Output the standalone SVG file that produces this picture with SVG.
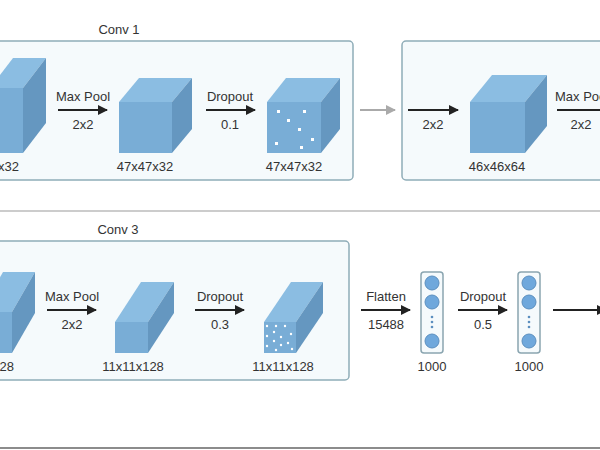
<svg xmlns="http://www.w3.org/2000/svg" width="600" height="450" viewBox="0 0 600 450">
<style>
text{font-family:"Liberation Sans",Arial,sans-serif;font-size:13px;fill:#333;text-anchor:middle}
.panel{fill:#f5fafc;stroke:#8fadb8;stroke-width:1.5}
.f{fill:#79add6}.t{fill:#8bbde2}.s{fill:#6597c0}
.ar{stroke:#222;stroke-width:2;fill:none}
.dot{fill:#fff}
.vec{fill:#f5fafc;stroke:#8aa5b0;stroke-width:1.5}
.c{fill:#6fa8dc;stroke:#5b8fbf;stroke-width:1}
</style>
<defs>
<marker id="ah" viewBox="0 0 10 10" refX="9" refY="5" markerWidth="5" markerHeight="5" orient="auto" markerUnits="strokeWidth"><path d="M0,0L10,5L0,10z" fill="#222"/></marker>
<marker id="ahg" viewBox="0 0 10 10" refX="9" refY="5" markerWidth="5" markerHeight="5" orient="auto" markerUnits="strokeWidth"><path d="M0,0L10,5L0,10z" fill="#aaa"/></marker>
</defs>
<rect width="600" height="450" fill="#fff"/>
<g id="panel1"><rect class="panel" x="-6" y="41" width="359" height="139" rx="4"/><text x="119" y="34">Conv 1</text></g>
<g id="panel2"><rect class="panel" x="402" y="41" width="220" height="139" rx="4"/></g>
<line x1="0" y1="211" x2="600" y2="211" stroke="#bbb" stroke-width="1.5"/>
<g id="panel3"><rect class="panel" x="-6" y="241" width="355" height="139" rx="4"/><text x="118" y="234">Conv 3</text></g>
<line x1="0" y1="448" x2="600" y2="448" stroke="#666" stroke-width="1.5"/>

<g id="cube1"><polygon class="t" points="-10,88 23,88 46,58 13,58"/><polygon class="s" points="23,88 46,58 46,123 23,153"/><rect class="f" x="-10" y="88" width="33" height="65"/><text x="19" y="171" style="text-anchor:end">x32</text></g>
<g id="cube2"><polygon class="t" points="119,102 172,102 192,78 139,78"/><polygon class="s" points="172,102 192,78 192,129 172,153"/><rect class="f" x="119" y="102" width="53" height="51"/><text x="145" y="171">47x47x32</text></g>
<g id="cube3"><polygon class="t" points="267,102 321,102 340,78 286,78"/><polygon class="s" points="321,102 340,78 340,129 321,153"/><rect class="f" x="267" y="102" width="54" height="51"/>
<rect class="dot" x="277" y="110" width="3" height="3"/><rect class="dot" x="303" y="110" width="3" height="3"/><rect class="dot" x="287" y="119" width="3" height="3"/><rect class="dot" x="298" y="128" width="3" height="3"/><rect class="dot" x="311" y="138" width="3" height="3"/><rect class="dot" x="275" y="142" width="3" height="3"/><rect class="dot" x="300" y="146" width="3" height="3"/>
<text x="294" y="171">47x47x32</text></g>
<g id="cube4"><polygon class="t" points="470,102 525,102 547,75 492,75"/><polygon class="s" points="525,102 547,75 547,126 525,153"/><rect class="f" x="470" y="102" width="55" height="51"/><text x="497" y="171">46x46x64</text></g>

<g id="cube5"><polygon class="t" points="-20,312 12,312 35,272 3,272"/><polygon class="s" points="12,312 35,272 35,313 12,353"/><rect class="f" x="-20" y="312" width="32" height="41"/><text x="14" y="371" style="text-anchor:end">28</text></g>
<g id="prism1"><polygon class="t" points="115,322 148,322 174,282 141,282"/><polygon class="s" points="148,322 174,282 174,313 148,353"/><rect class="f" x="115" y="322" width="33" height="31"/><text x="133" y="371">11x11x128</text></g>
<g id="prism2"><polygon class="t" points="264,322 296,322 323,282 291,282"/><polygon class="s" points="296,322 323,282 323,313 296,353"/><rect class="f" x="264" y="322" width="32" height="31"/>
<g fill="#fff"><circle cx="267" cy="326" r="1.2"/><circle cx="276" cy="326" r="1.2"/><circle cx="285" cy="326" r="1.2"/><circle cx="274" cy="332" r="1.2"/><circle cx="291" cy="334" r="1.2"/><circle cx="267" cy="336" r="1.2"/><circle cx="281" cy="337" r="1.2"/><circle cx="274" cy="341" r="1.2"/><circle cx="288" cy="343" r="1.2"/><circle cx="267" cy="346" r="1.2"/><circle cx="281" cy="345" r="1.2"/><circle cx="276" cy="350" r="1.2"/><circle cx="292" cy="349" r="1.2"/></g>
<text x="283" y="371">11x11x128</text></g>
<g id="vec1"><rect class="vec" x="421" y="272" width="22" height="81" rx="3"/><circle class="c" cx="432" cy="283" r="7"/><circle class="c" cx="432" cy="302" r="7"/><circle class="c" cx="432" cy="341" r="7"/><g fill="#5b8fbf"><circle cx="432" cy="317" r="1.3"/><circle cx="432" cy="322" r="1.3"/><circle cx="432" cy="327" r="1.3"/></g><text x="432" y="371">1000</text></g>
<g id="vec2"><rect class="vec" x="518" y="272" width="22" height="81" rx="3"/><circle class="c" cx="529" cy="283" r="7"/><circle class="c" cx="529" cy="302" r="7"/><circle class="c" cx="529" cy="341" r="7"/><g fill="#5b8fbf"><circle cx="529" cy="317" r="1.3"/><circle cx="529" cy="322" r="1.3"/><circle cx="529" cy="327" r="1.3"/></g><text x="529" y="371">1000</text></g>

<g id="connectors">
<line class="ar" x1="58" y1="110" x2="107" y2="110" marker-end="url(#ah)"/><text x="83" y="101">Max Pool</text><text x="83" y="129">2x2</text>
<line class="ar" x1="206" y1="110" x2="255" y2="110" marker-end="url(#ah)"/><text x="230" y="101">Dropout</text><text x="230" y="129">0.1</text>
<line x1="360" y1="110" x2="395" y2="110" stroke="#aaa" stroke-width="2" marker-end="url(#ahg)"/>
<line class="ar" x1="408" y1="110" x2="458" y2="110" marker-end="url(#ah)"/><text x="433" y="129">2x2</text>
<line class="ar" x1="557" y1="110" x2="610" y2="110" marker-end="url(#ah)"/><text x="555" y="101" style="text-anchor:start">Max Pool</text><text x="581" y="129">2x2</text>
<line class="ar" x1="47" y1="310" x2="96" y2="310" marker-end="url(#ah)"/><text x="72" y="301">Max Pool</text><text x="72" y="329">2x2</text>
<line class="ar" x1="195" y1="310" x2="244" y2="310" marker-end="url(#ah)"/><text x="220" y="301">Dropout</text><text x="220" y="329">0.3</text>
<line class="ar" x1="361" y1="310" x2="410" y2="310" marker-end="url(#ah)"/><text x="386" y="301">Flatten</text><text x="386" y="329">15488</text>
<line class="ar" x1="458" y1="310" x2="507" y2="310" marker-end="url(#ah)"/><text x="483" y="301">Dropout</text><text x="483" y="329">0.5</text>
<line class="ar" x1="553" y1="310" x2="606" y2="310" marker-end="url(#ah)"/>
</g>
</svg>
